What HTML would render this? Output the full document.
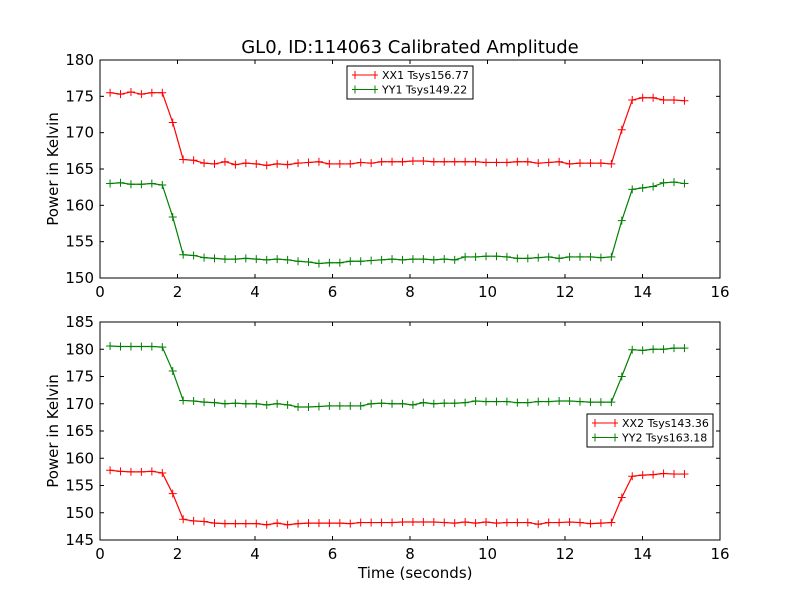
<!DOCTYPE html>
<html><head><meta charset="utf-8"><style>
body{margin:0;background:#fff}
svg{display:block;font-family:"DejaVu Sans","Liberation Sans",sans-serif}
</style></head><body>
<svg id="chart" width="800" height="600" viewBox="0 0 800 600">
<rect width="800" height="600" fill="#fff"/>
<text x="410" y="53" font-size="18" text-anchor="middle">GL0, ID:114063 Calibrated Amplitude</text>
<text x="358" y="578" font-size="15">Time (seconds)</text>
<g id="p1"></g>
<g id="p2"></g>
</svg>
<script>
const t0 = 0.26, dt = 0.2695;
const xTicks = [0,2,4,6,8,10,12,14,16];
const yTicksTop = [150,155,160,165,170,175,180];
const yTicksBottom = [145,150,155,160,165,170,175,180,185];
const xx1 = [175.5,175.3,175.6,175.3,175.5,175.5,171.4,
166.3,166.2,165.8,165.7,166.0,165.6,165.8,165.7,165.5,165.7,165.6,165.8,165.9,166.0,165.7,165.7,165.7,165.9,165.8,166.0,166.0,166.0,166.1,166.1,166.0,166.0,166.0,166.0,166.0,165.9,165.9,165.9,166.0,166.0,165.8,165.9,166.0,165.7,165.8,165.8,165.8,165.7,
170.4,174.5,174.8,174.8,174.5,174.5,174.4];
const yy1 = [163.0,163.1,162.9,162.9,163.0,162.8,158.4,
153.2,153.1,152.8,152.7,152.6,152.6,152.7,152.6,152.5,152.6,152.5,152.3,152.2,152.0,152.1,152.1,152.3,152.3,152.4,152.5,152.6,152.5,152.6,152.6,152.5,152.6,152.5,152.9,152.9,153.0,153.0,152.9,152.7,152.7,152.8,152.9,152.7,152.9,152.9,152.9,152.8,152.9,
157.9,162.2,162.4,162.6,163.1,163.2,163.0];
const yy2 = [180.6,180.5,180.5,180.5,180.5,180.4,176.0,
170.6,170.5,170.3,170.2,170.0,170.1,170.0,170.0,169.8,170.0,169.8,169.4,169.4,169.5,169.6,169.6,169.6,169.6,170.0,170.1,170.0,170.0,169.8,170.2,170.0,170.1,170.1,170.2,170.5,170.4,170.4,170.4,170.2,170.2,170.4,170.4,170.5,170.5,170.4,170.3,170.3,170.3,
175.0,179.9,179.8,180.0,180.0,180.2,180.2];
const xx2 = [157.8,157.6,157.5,157.5,157.6,157.3,153.5,
148.8,148.5,148.4,148.1,148.0,148.0,148.0,148.0,147.8,148.1,147.8,148.0,148.1,148.1,148.1,148.1,148.0,148.2,148.2,148.2,148.2,148.3,148.3,148.3,148.3,148.2,148.1,148.3,148.1,148.3,148.1,148.2,148.2,148.2,147.9,148.2,148.2,148.3,148.2,148.0,148.1,148.2,
152.8,156.7,156.9,157.0,157.2,157.1,157.1];
const NS='http://www.w3.org/2000/svg';
function mk(tag,attrs,parent){const e=document.createElementNS(NS,tag);for(const k in attrs)e.setAttribute(k,attrs[k]);parent.appendChild(e);return e;}
function panel(g,top,bottom,ymin,ymax,yTicks,series,legend){
  const L=100,R=720;
  const sx=v=>L+(v-0)/(16-0)*(R-L);
  const sy=v=>bottom-(v-ymin)/(ymax-ymin)*(bottom-top);
  xTicks.forEach(v=>{
    const x=sx(v);
    const a=mk('line',{x1:x,x2:x,y1:bottom,y2:bottom-4,stroke:'#000'},g);
    
    
    mk('line',{x1:x,x2:x,y1:top,y2:top+4,stroke:'#000'},g);
    const t=mk('text',{x:x,y:bottom+19,'font-size':15,'text-anchor':'middle'},g);
    
    
    t.textContent=v;
  });
  yTicks.forEach(v=>{
    const y=sy(v);
    const a=mk('line',{x1:L,x2:L+4,y1:y,y2:y,stroke:'#000'},g);
    
    
    mk('line',{x1:R,x2:R-4,y1:y,y2:y,stroke:'#000'},g);
    const t=mk('text',{x:L-6,y:y+5,'font-size':15,'text-anchor':'end'},g);
    
    
    t.textContent=v;
  });
  const yt=mk('text',{x:0,y:0,'font-size':15,'text-anchor':'middle',transform:`translate(58,${(top+bottom)/2}) rotate(-90)`},g);
  
  
  yt.textContent='Power in Kelvin';
  series.forEach(s=>{
    const pts=s.vals.map((v,i)=>[sx(t0+i*dt),sy(v)]);
    const sg=mk('g',{},g);
    
    
    mk('polyline',{points:pts.map(p=>p.join(',')).join(' '),fill:'none',stroke:s.color,'stroke-width':1.2},sg);
    pts.forEach(p=>{
      const m=mk('path',{d:`M${p[0]-4},${p[1]}h8M${p[0]},${p[1]-4}v8`,stroke:s.color,'stroke-width':1},sg);
      
      
    });
  });
  const fr=mk('rect',{x:L,y:top,width:R-L,height:bottom-top,fill:'none',stroke:'#000','stroke-width':1},g);
  
  
  const lg=mk('g',{},g);
  
  
  mk('rect',{x:legend.x,y:legend.y,width:126,height:33,fill:'#fff',stroke:'#000','stroke-width':1},lg);
  series.forEach((s,i)=>{
    const y=legend.y+9+i*14.5;
    const e=mk('g',{},lg);
    
    
    mk('path',{d:`M${legend.x+5},${y}h26M${legend.x+8},${y-4}v8M${legend.x+28},${y-4}v8`,stroke:s.color,'stroke-width':1},e);
    const t=mk('text',{x:legend.x+35,y:y+4,'font-size':11},e);
    t.textContent=s.label;
  });
}
panel(document.getElementById('p1'),60,278,150,180,yTicksTop,
  [{name:'xx1',vals:xx1,color:'#ff0000',label:'XX1 Tsys156.77'},{name:'yy1',vals:yy1,color:'#008000',label:'YY1 Tsys149.22'}],{x:347,y:66});
panel(document.getElementById('p2'),322,540,145,185,yTicksBottom,
  [{name:'xx2',vals:xx2,color:'#ff0000',label:'XX2 Tsys143.36'},{name:'yy2',vals:yy2,color:'#008000',label:'YY2 Tsys163.18'}],{x:587,y:414});
</script>
</body></html>
